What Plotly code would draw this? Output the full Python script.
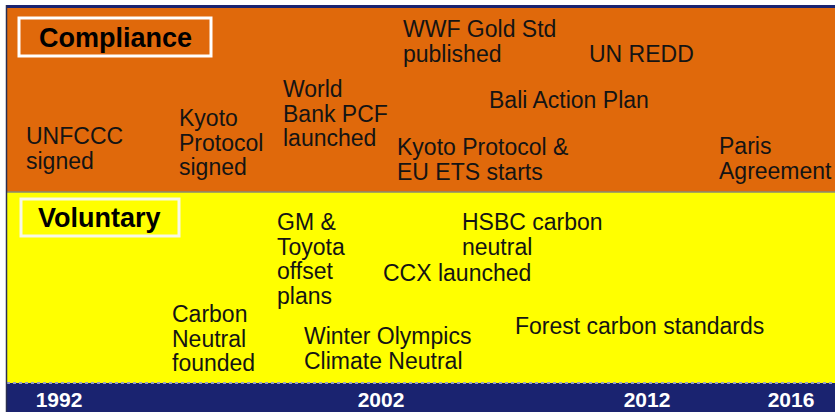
import plotly.graph_objects as go

# ---- data ----
band_names = ["Compliance", "Voluntary"]

compliance_events = ["UNFCCC<br>signed", "Kyoto<br>Protocol<br>signed", "World<br>Bank PCF<br>launched",
                     "WWF Gold Std<br>published", "UN REDD", "Bali Action Plan",
                     "Kyoto Protocol &<br>EU ETS starts", "Paris<br>Agreement"]
compliance_x = [27, 180, 284, 404, 590, 490, 398, 720]
compliance_y = [128, 110, 81, 21, 46, 92, 139, 138]

voluntary_events = ["GM &<br>Toyota<br>offset<br>plans", "HSBC carbon<br>neutral", "CCX launched",
                    "Forest carbon standards", "Winter Olympics<br>Climate Neutral",
                    "Carbon<br>Neutral<br>founded"]
voluntary_x = [278, 463, 384, 516, 305, 173]
voluntary_y = [214, 214, 265, 318, 328, 306]

tick_years = ["1992", "2002", "2012", "2016"]
tick_x = [59, 381, 647, 791]

# ---- style ----
W, H = 835, 412
BOTTOM = 29
PH = H - BOTTOM
ORANGE = "#E0690B"
YELLOW = "#FFFF00"
NAVY = "#1A2370"
FONT = "Liberation Sans, Arial, sans-serif"
TXT = "#141414"
FS = 23
LINE_H = 24.5

fig = go.Figure()
fig.add_trace(go.Scatter(x=[0, W], y=[0, PH], mode="markers", marker=dict(opacity=0),
                         hoverinfo="skip", showlegend=False))

shapes = []
# bands
shapes.append(dict(type="rect", xref="x", yref="y", x0=7, x1=W, y0=8, y1=192,
                   fillcolor=ORANGE, line_width=0, layer="below"))
shapes.append(dict(type="rect", xref="x", yref="y", x0=7, x1=W, y0=192, y1=PH,
                   fillcolor=YELLOW, line_width=0, layer="below"))
shapes.append(dict(type="line", xref="x", yref="y", x0=7, x1=W, y0=192, y1=192,
                   line=dict(color="#8A8A70", width=1.5)))
# top blue rule
shapes.append(dict(type="rect", xref="x", yref="y", x0=6, x1=W, y0=5, y1=8,
                   fillcolor=NAVY, line_width=0))
# navy bottom bar
shapes.append(dict(type="rect", xref="x", yref="paper", x0=6, x1=W, y0=-BOTTOM / PH - 0.01, y1=0,
                   fillcolor=NAVY, line_width=0, layer="below"))
shapes.append(dict(type="line", xref="x", yref="paper", x0=7, x1=W, y0=0, y1=0,
                   line=dict(color="#9AA0C0", width=2, dash="dot")))
# left rule
shapes.append(dict(type="line", xref="x", yref="paper", x0=6.5, x1=6.5, y0=-BOTTOM / PH - 0.01, y1=1 - 5 / PH,
                   line=dict(color="#2A2F50", width=1.5)))
# title boxes
shapes.append(dict(type="rect", xref="x", yref="y", x0=19, x1=211, y0=18, y1=56,
                   line=dict(color="white", width=3)))
shapes.append(dict(type="rect", xref="x", yref="y", x0=21, x1=179, y0=199, y1=236,
                   line=dict(color="#F8F8E8", width=3)))

annotations = []
annotations.append(dict(x=115, y=38, xref="x", yref="y", text="<b>Compliance</b>", showarrow=False,
                        font=dict(family=FONT, size=27, color="black"), xanchor="center", yanchor="middle"))
annotations.append(dict(x=99, y=218, xref="x", yref="y", text="<b>Voluntary</b>", showarrow=False,
                        font=dict(family=FONT, size=27, color="black"), xanchor="center", yanchor="middle"))

for labels, xs, ys in [(compliance_events, compliance_x, compliance_y),
                       (voluntary_events, voluntary_x, voluntary_y)]:
    for lab, x0, y0 in zip(labels, xs, ys):
        for i, line in enumerate(lab.split("<br>")):
            annotations.append(dict(x=x0, y=y0 + i * LINE_H + 8, xref="x", yref="y", text=line,
                                    showarrow=False, xanchor="left", yanchor="middle",
                                    borderpad=0, borderwidth=0, xshift=-1,
                                    font=dict(family=FONT, size=FS, color=TXT)))

fig.update_layout(
    width=W, height=H,
    margin=dict(l=0, r=0, t=0, b=BOTTOM, pad=0),
    paper_bgcolor="white", plot_bgcolor="white",
    shapes=shapes, annotations=annotations,
    showlegend=False,
    xaxis=dict(range=[0, W], showgrid=False, zeroline=False, showline=False,
               tickmode="array", tickvals=tick_x, ticktext=tick_years, ticks="",
               tickfont=dict(family=FONT, size=21, color="white", weight="bold"),
               ticklabelstandoff=2, fixedrange=True),
    yaxis=dict(range=[PH, 0], showgrid=False, zeroline=False, showline=False,
               showticklabels=False, fixedrange=True),
)

fig.write_html("out.html", config={"displayModeBar": False},
               post_script="document.body.style.margin='0';document.body.style.overflow='hidden';")
